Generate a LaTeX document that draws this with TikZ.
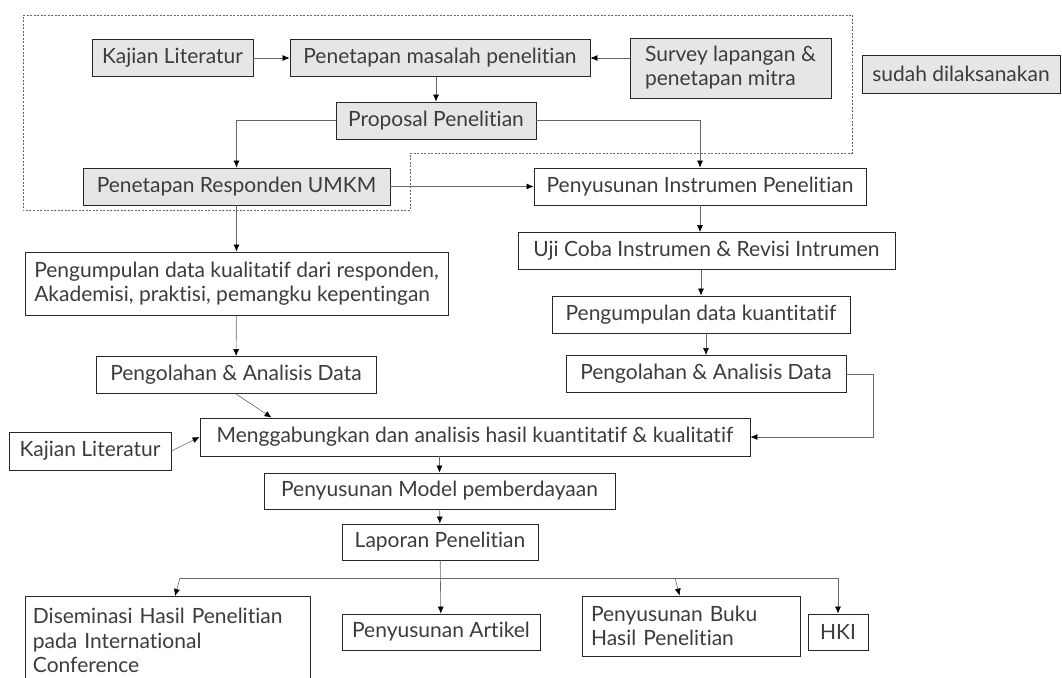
\documentclass[tikz,border=0pt]{standalone}
\usepackage{fontspec}
\setmainfont{Lato}[Ligatures={NoCommon,NoRare}]
\usetikzlibrary{arrows.meta}
\definecolor{isi}{RGB}{230,230,230}
\definecolor{teks}{RGB}{60,60,60}
\begin{document}
\begin{tikzpicture}[x=1pt,y=-1pt,
	kotak/.style={draw=black!85,line width=0.9pt,fill=white,text=teks,minimum height=37pt,inner sep=3pt,font=\fontsize{21}{24}\selectfont},
	sudah/.style={kotak,fill=isi},
	panah/.style={draw=black!60,line width=0.6pt,-{Latex[length=7pt,width=6pt,black]}}]
	\clip (0,0) rectangle (1062,677);
	%\draw[step=10,gray!15] (0,0) grid (1062,677); %helper grid
	\draw[black!60,line width=0.6pt,dash pattern=on 2pt off 1.5pt] (23,15) -- (852,15) -- (852,153) -- (410,153) -- (410,210) -- (23,210) -- cycle;
	% already done
	\node[sudah,minimum width=161pt] (kajianA) at (172.5,58) {Kajian Literatur};
	\node[sudah,minimum width=300pt] (masalah) at (440,58) {Penetapan masalah penelitian};
	\node[sudah,minimum width=201pt,minimum height=60pt,align=left] (survey) at (730.5,68) {Survey lapangan \&\\penetapan mitra};
	\node[sudah,minimum width=198pt,minimum height=38pt] (ket) at (961,74) {sudah dilaksanakan};
	\node[sudah,minimum width=200pt] (proposal) at (436,120.5) {Proposal Penelitian};
	\node[sudah,minimum width=307pt] (responden) at (236.5,186.5) {Penetapan Responden UMKM};
	% right branch
	\node[kotak,minimum width=332pt] (instrumen) at (700,186.5) {Penyusunan Instrumen Penelitian};
	\node[kotak,minimum width=377pt] (ujicoba) at (706.5,251) {Uji Coba Instrumen \& Revisi Intrumen};
	\node[kotak,minimum width=298pt] (kuanti) at (701,314.5) {Pengumpulan data kuantitatif};
	\node[kotak,minimum width=280pt] (olahB) at (706,374) {Pengolahan \& Analisis Data};
	% left branch
	\node[kotak,minimum width=423pt,minimum height=63pt,align=left] (kuali) at (236.5,283.5) {Pengumpulan data kualitatif dari responden,\\Akademisi, praktisi, pemangku kepentingan};
	\node[kotak,minimum width=280pt] (olahA) at (236,375) {Pengolahan \& Analisis Data};
	\node[kotak,minimum width=162pt,minimum height=38pt] (kajianB) at (90,451) {Kajian Literatur};
	\node[kotak,minimum width=550pt,minimum height=38pt] (gabung) at (475,437) {Menggabungkan dan analisis hasil kuantitatif \& kualitatif};
	\node[kotak,minimum width=351pt,minimum height=36pt] (model) at (439.5,491) {Penyusunan Model pemberdayaan};
	\node[kotak,minimum width=196pt,minimum height=36pt] (laporan) at (440,542) {Laporan Penelitian};
	% outputs
	\node[kotak,anchor=north west,minimum width=285pt,minimum height=88pt,text width=270pt,align=left,font=\fontsize{21}{24.5}\selectfont] (diseminasi) at (25,596) {Diseminasi Hasil Penelitian\\pada International\\Conference};
	\node[kotak,minimum width=198pt,minimum height=36pt] (artikel) at (441,632) {Penyusunan Artikel};
	\node[kotak,minimum width=218pt,minimum height=60pt,text width=200pt,align=left] (buku) at (691,626) {Penyusunan Buku\\Hasil Penelitian};
	\node[kotak,minimum width=60pt,minimum height=36pt] (hki) at (838,632) {HKI};
	\coordinate (cabKiri) at (180,578);
	\coordinate (cabBuku) at (675,578);
	\coordinate (cabKanan) at (838,578);
	% connectors
	\draw[panah] (kajianA) -- (masalah);
	\draw[panah] (survey.west |- masalah) -- (masalah.east);
	\draw[panah] (proposal.north |- masalah.south) -- (proposal.north);
	\draw[panah] (proposal.west) -| (responden.north);
	\draw[panah] (proposal.east) -| (instrumen.north);
	\draw[panah] (responden) -- (instrumen);
	\draw[panah] (responden) -- (kuali);
	\draw[panah] (instrumen.south) -- (instrumen.south |- ujicoba.north);
	\draw[panah] (ujicoba.south -| kuanti) -- (kuanti.north);
	\draw[panah] (kuanti.south -| olahB) -- (olahB.north);
	\draw[panah] (kuali) -- (olahA);
	\draw[panah] (olahA.south) -- ([xshift=72pt]gabung.north west);
	\draw[panah] (kajianB.east) -- (gabung.west);
	\draw[panah] (olahB.east) -- ++(27,0) |- (gabung.east);
	\draw[panah] (model.north |- gabung.south) -- (model.north);
	\draw[panah] (model) -- (laporan);
	\draw[panah] (laporan) -- (artikel);
	\draw[black!60,line width=0.6pt] (cabKiri) -- (cabKanan);
	\draw[panah] (cabKiri) -- ([xshift=150pt]diseminasi.north west);
	\draw[panah] (cabBuku) -- ([xshift=98pt]buku.north west);
	\draw[panah] (cabKanan) -- (hki.north);
\end{tikzpicture}
\end{document}
